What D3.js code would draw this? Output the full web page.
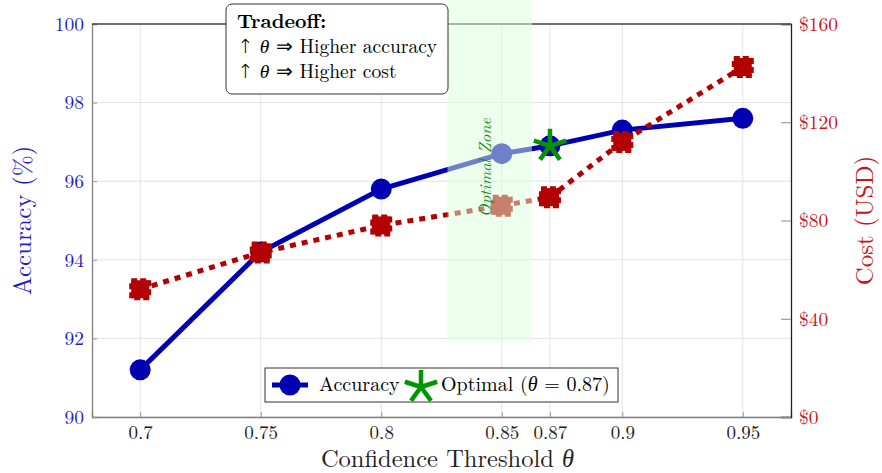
<!DOCTYPE html>
<html lang="en">
  <head>
    <meta charset="UTF-8" />
    <title>Accuracy vs Cost</title>
    <script src="https://d3js.org/d3.v7.min.js"></script>
    <style>
      body {
        margin: 0;
        background: #fff;
      }
      .grid line {
        stroke: #e3e3e3;
        stroke-width: 1;
      }
    </style>
  </head>
  <body>
    <svg width="882" height="473"></svg>

    <script>
      // data
      const thresholds = [0.7, 0.75, 0.8, 0.85, 0.87, 0.9, 0.95];
      const accuracy = [91.2, 94.2, 95.8, 96.7, 96.9, 97.3, 97.6];
      const cost = [52, 67, 78, 86, 89.5, 112, 142.5];
      const xTicks = [0.7, 0.75, 0.8, 0.85, 0.87, 0.9, 0.95];
      const accTicks = [90, 92, 94, 96, 98, 100];
      const costTicks = [0, 40, 80, 120, 160];
      const optimalTheta = 0.87;
      const optimalAcc = 96.9;
      const zoneX = [0.8275, 0.8625];
      const zoneY = [91.9, 100.7];

      const FONT = "'Latin Modern Roman', 'Liberation Serif', serif";
      const THETA = "<tspan style=\"font-family:'Liberation Serif';font-style:italic\">θ</tspan>";
      const SYM = (s) => `<tspan style="font-family:'DejaVu Sans';font-weight:200">${s}</tspan>`;
      const blue = "rgb(0,0,179)";
      const red = "rgb(179,0,0)";
      const green = "rgb(0,150,0)";

      const svg = d3.select("svg");
      const plotL = 92, plotR = 791, plotT = 24, plotB = 417;

      const x = d3.scaleLinear().domain([0.68, 0.97]).range([plotL, plotR]);
      const yAcc = d3.scaleLinear().domain([90, 100]).range([plotB, plotT]);
      const yCost = d3.scaleLinear().domain([0, 160]).range([plotB, plotT]);

      // grid
      const grid = svg.append("g").attr("class", "grid");
      grid.selectAll(".gx").data(xTicks).join("line")
        .attr("x1", (d) => x(d)).attr("x2", (d) => x(d))
        .attr("y1", plotT).attr("y2", plotB);
      grid.selectAll(".gy").data(accTicks).join("line")
        .attr("x1", plotL).attr("x2", plotR)
        .attr("y1", (d) => yAcc(d)).attr("y2", (d) => yAcc(d));

      // axes
      const xAxis = svg.append("g")
        .attr("transform", `translate(0,${plotB})`)
        .call(d3.axisBottom(x).tickValues(xTicks).tickFormat((d) => String(d)).tickSize(-5).tickPadding(9));
      xAxis.select(".domain").attr("stroke", "#808080").attr("stroke-width", 1.3);
      xAxis.selectAll(".tick line").attr("stroke", "#999");
      xAxis.selectAll(".tick text").attr("font-size", 19).attr("fill", "#222");

      const yAxisL = svg.append("g")
        .attr("transform", `translate(${plotL},0)`)
        .call(d3.axisLeft(yAcc).tickValues(accTicks).tickSize(-5).tickPadding(8));
      yAxisL.select(".domain").attr("stroke", "#808080").attr("stroke-width", 1.3);
      yAxisL.selectAll(".tick line").attr("stroke", "#999");
      yAxisL.selectAll(".tick text").attr("font-size", 19.5).attr("fill", "rgb(30,30,200)");

      const yAxisR = svg.append("g")
        .attr("transform", `translate(${plotR},0)`)
        .call(d3.axisRight(yCost).tickValues(costTicks).tickFormat((d) => "$" + d).tickSize(-10).tickPadding(8));
      yAxisR.select(".domain").attr("stroke", "#222").attr("stroke-width", 1.3);
      yAxisR.selectAll(".tick line").attr("stroke", "#888");
      yAxisR.selectAll(".tick text").attr("font-size", 19.5).attr("fill", "rgb(200,20,20)");

      // top border
      svg.append("line")
        .attr("x1", plotL).attr("x2", plotR).attr("y1", plotT).attr("y2", plotT)
        .attr("stroke", "#444").attr("stroke-width", 1.3);

      // accuracy series
      const accPts = thresholds.map((t, i) => [t, accuracy[i]]);
      svg.append("path")
        .datum(accPts)
        .attr("fill", "none")
        .attr("stroke", blue)
        .attr("stroke-width", 5)
        .attr("d", d3.line().x((d) => x(d[0])).y((d) => yAcc(d[1])));
      svg.selectAll(".acc").data(accPts).join("circle")
        .attr("cx", (d) => x(d[0])).attr("cy", (d) => yAcc(d[1]))
        .attr("r", 10.5).attr("fill", blue);

      // cost series
      const costPts = thresholds.map((t, i) => [t, cost[i]]);
      svg.append("path")
        .datum(costPts)
        .attr("fill", "none")
        .attr("stroke", red)
        .attr("stroke-width", 5)
        .attr("stroke-dasharray", "6,6")
        .attr("d", d3.line().x((d) => x(d[0])).y((d) => yCost(d[1])));
      svg.selectAll(".cost").data(costPts).join("rect")
        .attr("x", (d) => x(d[0]) - 9).attr("y", (d) => yCost(d[1]) - 9)
        .attr("width", 18).attr("height", 18)
        .attr("fill", red).attr("stroke", red)
        .attr("stroke-width", 4).attr("stroke-dasharray", "6,3");

      // star marker (5 arms)
      function star(g, cx, cy, r) {
        const p = d3.path();
        for (let k = 0; k < 5; k++) {
          const a = -Math.PI / 2 + (k * 2 * Math.PI) / 5;
          p.moveTo(cx, cy);
          p.lineTo(cx + r * Math.cos(a), cy + r * Math.sin(a));
        }
        g.append("path").attr("d", p.toString())
          .attr("stroke", green).attr("stroke-width", 4.5)
          .attr("fill", "none");
      }

      // optimal zone overlay
      svg.append("rect")
        .attr("x", x(zoneX[0])).attr("y", yAcc(zoneY[1]))
        .attr("width", x(zoneX[1]) - x(zoneX[0]))
        .attr("height", yAcc(zoneY[0]) - yAcc(zoneY[1]))
        .attr("fill", "rgb(220,255,220)").attr("opacity", 0.5);

      star(svg, x(optimalTheta), yAcc(optimalAcc), 17);

      svg.append("text")
        .attr("transform", `translate(${x(0.8455)},${yAcc(96.35)}) rotate(-90)`)
        .attr("text-anchor", "middle")
        .attr("font-size", 16.5)
        .attr("font-style", "italic")
        .attr("fill", "rgb(20,140,20)")
        .text("Optimal Zone");

      // tradeoff box
      const box = svg.append("g");
      box.append("rect")
        .attr("x", 226).attr("y", 4).attr("width", 222).attr("height", 90)
        .attr("rx", 6).attr("fill", "#fff").attr("stroke", "#333").attr("stroke-width", 1);
      box.append("text").attr("x", 237).attr("y", 28)
        .attr("font-size", 20).attr("font-weight", "bold").text("Tradeoff:");
      box.append("text").attr("x", 237).attr("y", 53)
        .attr("font-size", 19.5).html(`${SYM("↑")} ${THETA} ${SYM("⇒")} Higher accuracy`);
      box.append("text").attr("x", 237).attr("y", 78)
        .attr("font-size", 19.5).html(`${SYM("↑")} ${THETA} ${SYM("⇒")} Higher cost`);

      // legend
      const lg = svg.append("g");
      lg.append("rect")
        .attr("x", 265).attr("y", 368).attr("width", 353).attr("height", 34)
        .attr("fill", "#fff").attr("stroke", "#333").attr("stroke-width", 1);
      lg.append("line").attr("x1", 272).attr("x2", 308).attr("y1", 385).attr("y2", 385)
        .attr("stroke", blue).attr("stroke-width", 5);
      lg.append("circle").attr("cx", 290).attr("cy", 385).attr("r", 10.5).attr("fill", blue);
      lg.append("text").attr("x", 319).attr("y", 391).attr("font-size", 20).text("Accuracy");
      star(lg, 421, 387, 17);
      lg.append("text").attr("x", 441).attr("y", 391).attr("font-size", 20)
        .html(`Optimal (${THETA} = 0.87)`);

      // axis titles
      svg.append("text")
        .attr("x", (plotL + plotR) / 2 + 6).attr("y", 467)
        .attr("text-anchor", "middle").attr("font-size", 24.5).attr("fill", "#222")
        .html(`Confidence Threshold ${THETA}`);
      svg.append("text")
        .attr("transform", `translate(31,${(plotT + plotB) / 2}) rotate(-90)`)
        .attr("text-anchor", "middle").attr("font-size", 25).attr("fill", "rgb(30,30,200)")
        .text("Accuracy (%)");
      svg.append("text")
        .attr("transform", `translate(873,${(plotT + plotB) / 2}) rotate(-90)`)
        .attr("text-anchor", "middle").attr("font-size", 25).attr("fill", "rgb(200,20,20)")
        .text("Cost (USD)");

      // serif font everywhere
      svg.selectAll("g").attr("font-family", null);
      svg.selectAll("text").style("font-family", FONT);
    </script>
  </body>
</html>
